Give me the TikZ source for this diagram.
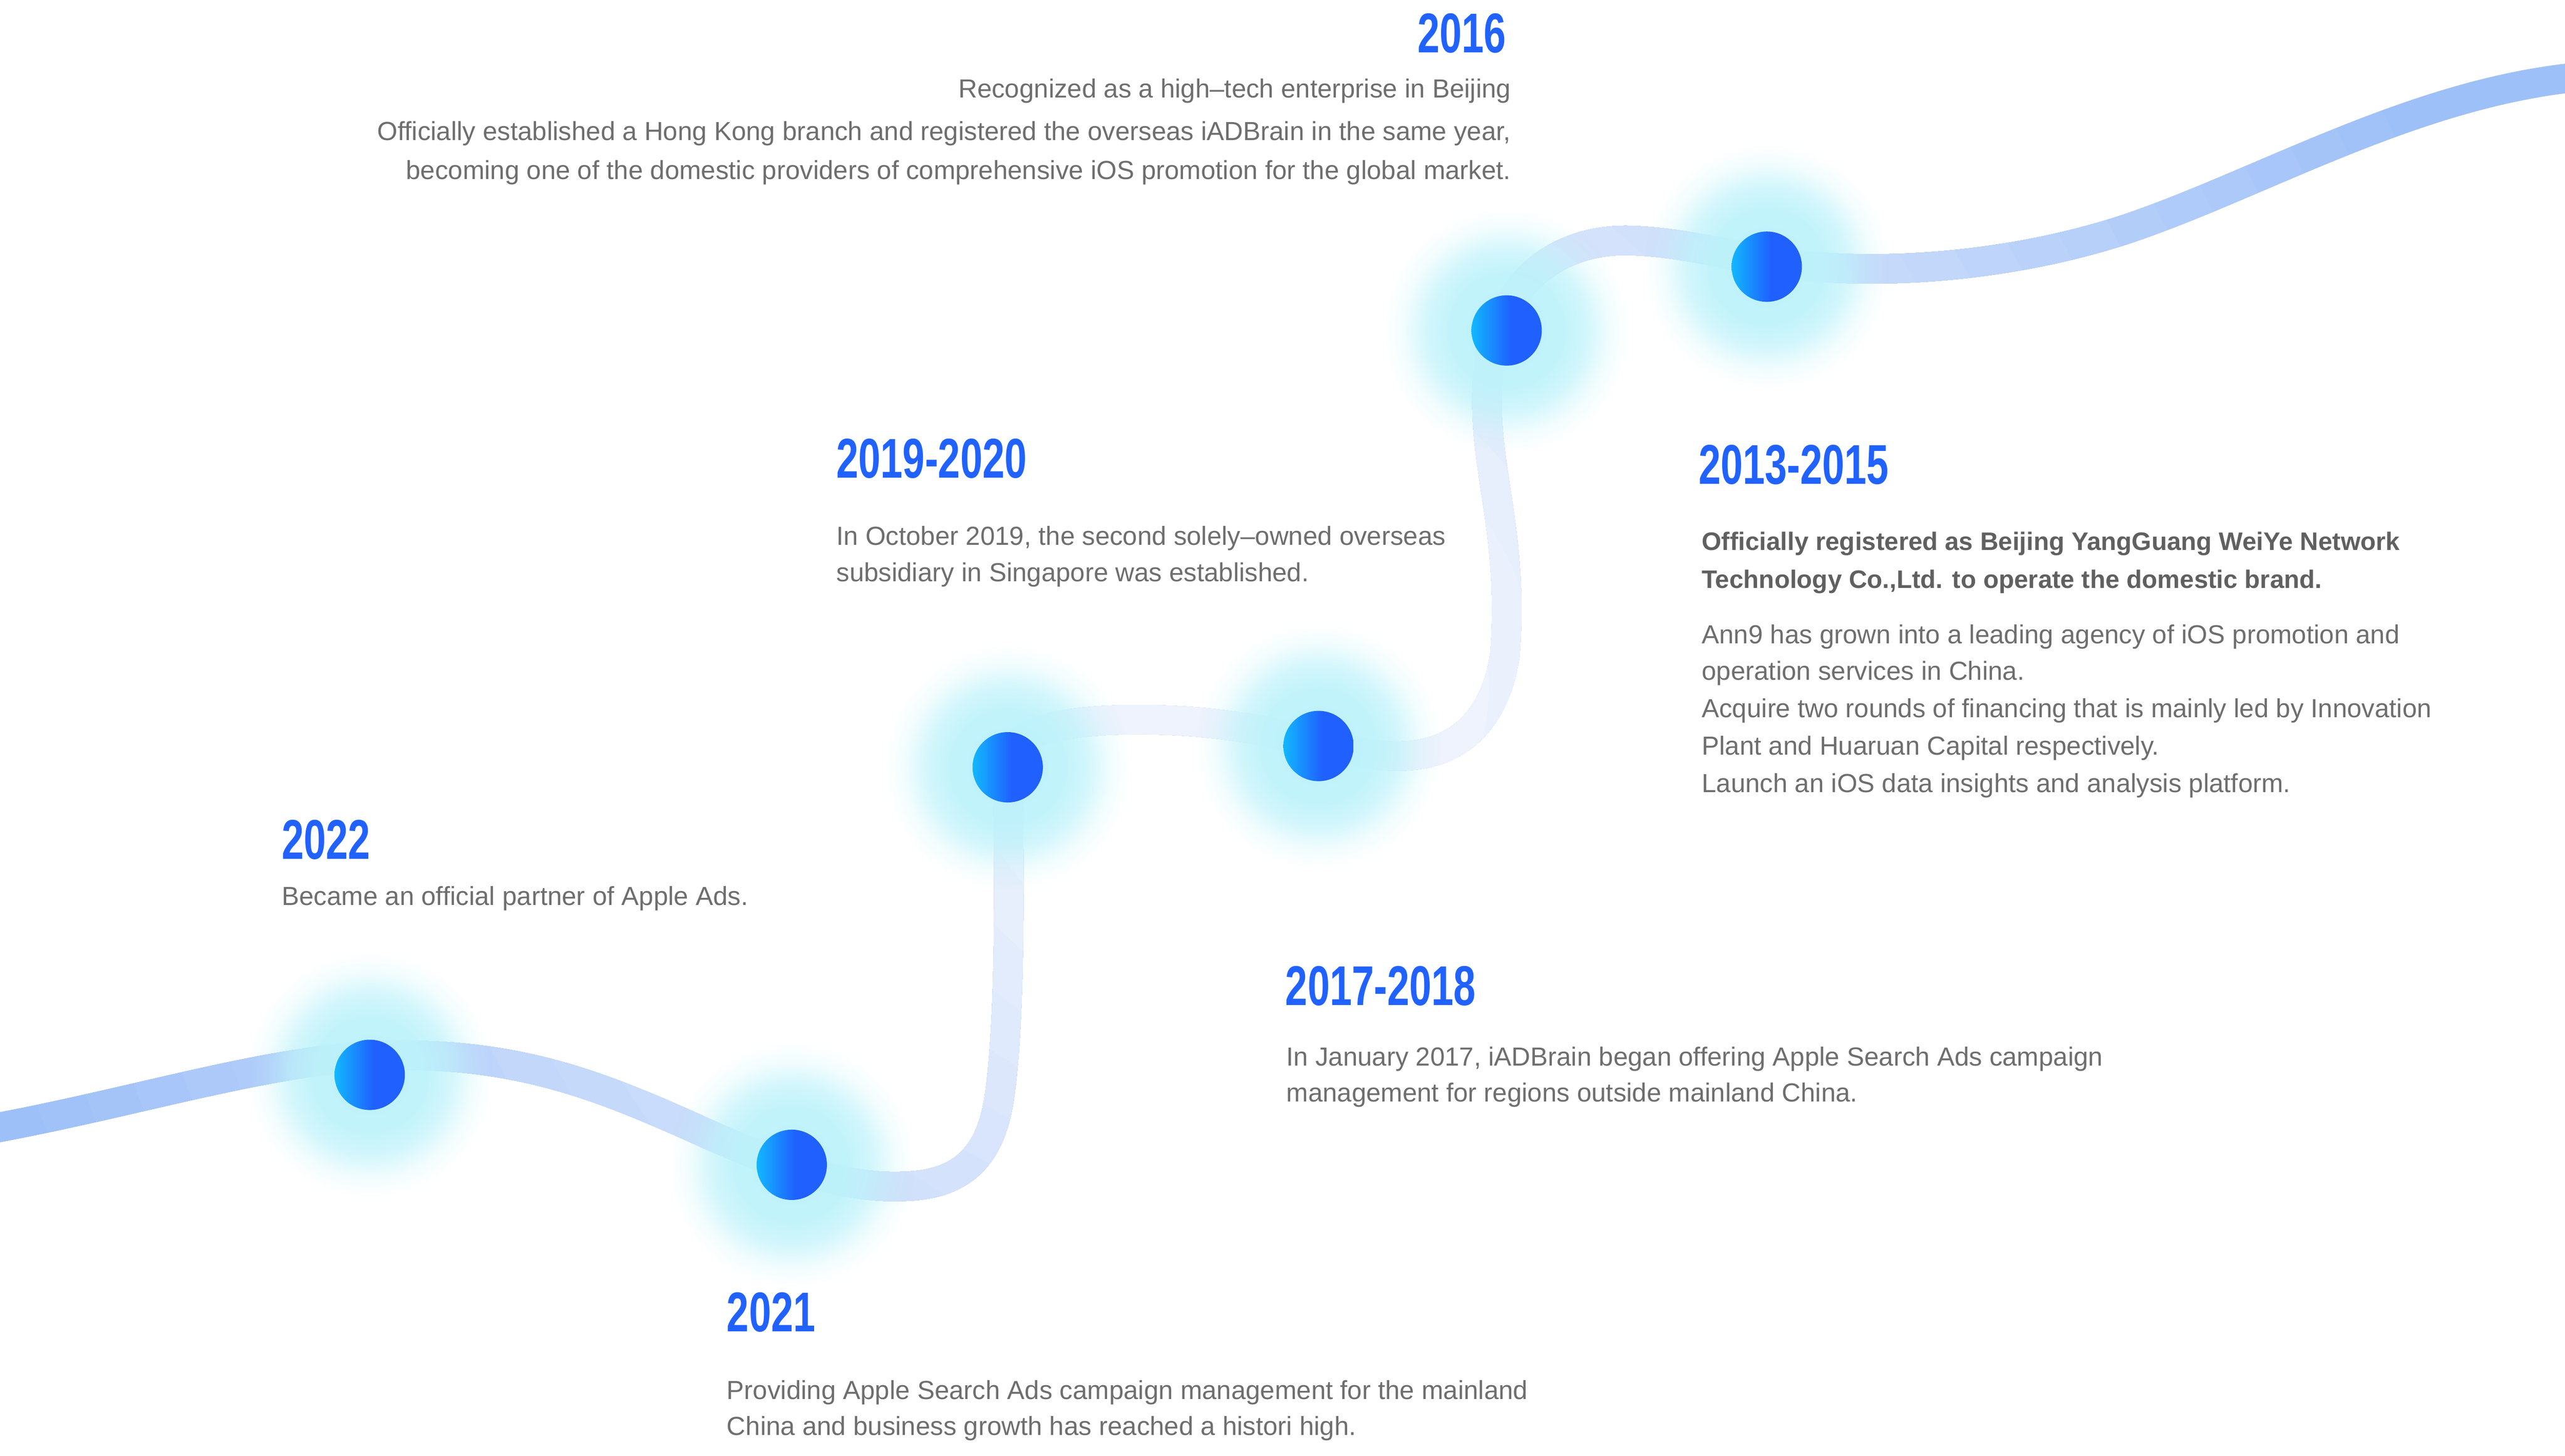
\documentclass[tikz,border=0pt]{standalone}
\usepackage{fontspec}
\setmainfont{Liberation Sans}
\newfontfamily\yearfont[FakeStretch=0.71]{Liberation Sans}
\usetikzlibrary{fadings}

\definecolor{yearblue}{RGB}{33,98,255}
\definecolor{textgray}{RGB}{110,110,110}
\definecolor{boldgray}{RGB}{96,96,96}
\definecolor{ribdark}{RGB}{158,192,248}
\definecolor{riblight}{RGB}{238,243,253}
\definecolor{glowcyan}{RGB}{189,242,250}
\definecolor{dotcyan}{RGB}{18,184,255}
\definecolor{dotblue}{RGB}{31,96,255}

\pgfdeclarehorizontalshading{dotshade}{100bp}{color(0bp)=(dotcyan); color(25bp)=(dotcyan); color(53bp)=(dotblue); color(100bp)=(dotblue)}
\pgfdeclareradialshading{glowmask}{\pgfpointorigin}{color(0bp)=(white); color(11bp)=(white!95!black); color(16bp)=(white!70!black); color(21bp)=(white!20!black); color(25bp)=(black); color(50bp)=(black)}
\pgfdeclarefading{glowfade}{\pgfuseshading{glowmask}}

\tikzset{
  ribbon/.style={line width=0.36cm},
  glow/.style={fill=glowcyan, path fading=glowfade},
  dot/.style={circle, minimum size=0.86cm, inner sep=0pt, shade, shading=dotshade},
  year/.style={font=\yearfont\bfseries\fontsize{19.5}{20}\selectfont, text=yearblue, inner sep=0pt},
  body/.style={font=\fontsize{9.1}{11}\selectfont, text=textgray, inner sep=0pt},
  bodybold/.style={font=\bfseries\fontsize{8.8}{11}\selectfont, text=boldgray, inner sep=0pt}
}

\newcommand{\ribbonpath}{(-30,695) -- (0,689)
  .. controls (90,672) and (170,646) .. (240,645)
  .. controls (320,644) and (370,665) .. (430,692)
  .. controls (490,719) and (525,727) .. (556,725)
  .. controls (590,723) and (606,705) .. (611,670)
  .. controls (618,621) and (617,530) .. (616,469)
  .. controls (615,445) and (655,439) .. (706,440)
  .. controls (750,441) and (780,448) .. (810,455)
  .. controls (830,460) and (845,463) .. (860,462)
  .. controls (892,460) and (914,440) .. (920,400)
  .. controls (926,320) and (904,282) .. (910,225)
  .. controls (916,175) and (950,146) .. (996,147)
  .. controls (1030,148) and (1060,157) .. (1090,161)
  .. controls (1150,169) and (1230,163) .. (1300,140)
  .. controls (1380,113) and (1470,60) .. (1568,48) -- (1600,44)}

\begin{document}
\begin{tikzpicture}[x=0.02cm, y=-0.02cm]
\useasboundingbox (0,0) rectangle (1568,889.74);
\clip (0,0) rectangle (1568,889.74);

\coordinate (ribc) at (760,420);
\draw[ribbon, ribdark] \ribbonpath;
\foreach \r in {870,840,...,150}{
  \pgfmathsetmacro{\mixp}{min(100,max(0,(\r-150)/6.5))}
  \begin{scope}
    \clip (ribc) circle[radius=\r*0.02cm];
    \draw[ribbon, ribdark!\mixp!riblight] \ribbonpath;
  \end{scope}
}

\foreach \nm/\x/\y in {2022/226/657, 2021/484/712, 2019/616/469, 2017/806/456, 2016/921/202, 2013/1080/163}{
  \fill[glow] (\x,\y) circle[radius=1.5cm];
  \node[dot] (dot\nm) at (\x,\y) {};
}

\node[year, anchor=base east] (year2016) at (921,32) {2016};
\node[body, anchor=base east] (t2016a) at (924,59.7) {Recognized as a high–tech enterprise in Beijing};
\node[body, anchor=base east] (t2016b) at (924,85.8) {Officially established a Hong Kong branch and registered the overseas iADBrain in the same year,};
\node[body, anchor=base east] (t2016c) at (924,109.5) {becoming one of the domestic providers of comprehensive iOS promotion for the global market.};

\node[year, anchor=base west] (year2019) at (511,292) {2019-2020};
\node[body, anchor=base west] (t2019a) at (511,333.3) {In October 2019, the second solely–owned overseas};
\node[body, anchor=base west] (t2019b) at (511,355.5) {subsidiary in Singapore was established.};

\node[year, anchor=base west] (year2013) at (1038,296) {2013-2015};
\node[bodybold, anchor=base west] (t2013a) at (1040,336.3) {Officially registered as Beijing YangGuang WeiYe Network};
\node[bodybold, anchor=base west] (t2013b) at (1040,359.5) {Technology Co.,Ltd. to operate the domestic brand.};
\node[body, anchor=base west] (t2013c) at (1040,393.3) {Ann9 has grown into a leading agency of iOS promotion and};
\node[body, anchor=base west] (t2013d) at (1040,415.8) {operation services in China.};
\node[body, anchor=base west] (t2013e) at (1040,438.7) {Acquire two rounds of financing that is mainly led by Innovation};
\node[body, anchor=base west] (t2013f) at (1040,461.5) {Plant and Huaruan Capital respectively.};
\node[body, anchor=base west] (t2013g) at (1040,484.4) {Launch an iOS data insights and analysis platform.};

\node[year, anchor=base west] (year2022) at (172,525) {2022};
\node[body, anchor=base west] (t2022a) at (172,553.3) {Became an official partner of Apple Ads.};

\node[year, anchor=base west] (year2017) at (785.5,614.5) {2017-2018};
\node[body, anchor=base west] (t2017a) at (786,651.5) {In January 2017, iADBrain began offering Apple Search Ads campaign};
\node[body, anchor=base west] (t2017b) at (786,673.5) {management for regions outside mainland China.};

\node[year, anchor=base west] (year2021) at (444,814) {2021};
\node[body, anchor=base west] (t2021a) at (444,855.3) {Providing Apple Search Ads campaign management for the mainland};
\node[body, anchor=base west] (t2021b) at (444,877.3) {China and business growth has reached a histori high.};
\end{tikzpicture}
\end{document}
